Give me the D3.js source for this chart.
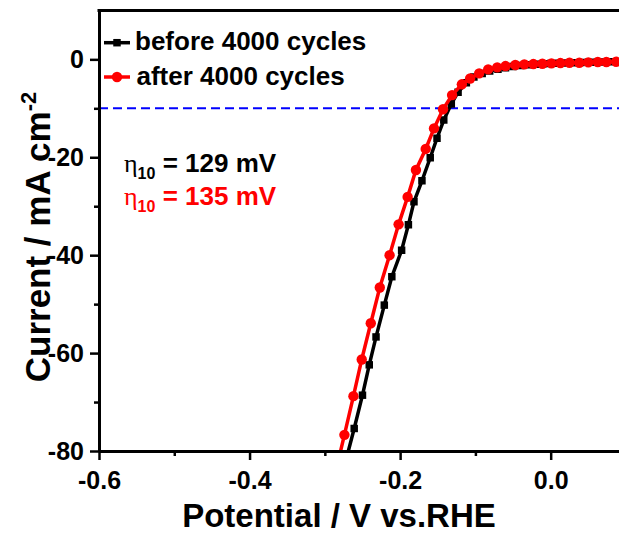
<!DOCTYPE html>
<html>
<head>
<meta charset="utf-8">
<script src="https://cdn.jsdelivr.net/npm/d3@7"></script>
<style>
  body { margin: 0; background: #fff; }
  svg { display: block; font-family: "Liberation Sans", Arial, sans-serif; }
</style>
</head>
<body>
<svg width="619" height="536"></svg>
<script>
// data (V vs RHE, mA cm-2)
var before_v = [-0.272, -0.261, -0.250, -0.241, -0.232, -0.221, -0.211, -0.198, -0.189, -0.1816, -0.171, -0.160, -0.151, -0.142, -0.132, -0.123, -0.112, -0.102, -0.091, -0.081, -0.070, -0.060, -0.050, -0.040, -0.030, -0.020, -0.010, 0.000, 0.010, 0.020, 0.030, 0.040, 0.050, 0.060, 0.070, 0.080, 0.090, 0.100];
var before_j = [-81.9, -75.4, -68.6, -62.4, -56.7, -50.2, -44.4, -39.0, -33.8, -29.1, -24.8, -20.1, -16.1, -12.4, -9.1, -6.7, -4.8, -3.6, -2.9, -2.4, -2.0, -1.7, -1.45, -1.25, -1.1, -1.0, -0.92, -0.85, -0.8, -0.75, -0.7, -0.65, -0.6, -0.57, -0.54, -0.5, -0.47, -0.45];
var after_v = [-0.286, -0.274, -0.262, -0.251, -0.239, -0.227, -0.214, -0.202, -0.190, -0.179, -0.166, -0.155, -0.143, -0.131, -0.118, -0.107, -0.095, -0.083, -0.071, -0.060, -0.047, -0.035, -0.023, -0.011, 0.001, 0.013, 0.025, 0.038, 0.050, 0.0625, 0.074, 0.087, 0.099];
var after_j = [-84.5, -76.7, -68.8, -61.3, -53.9, -46.6, -40.0, -33.7, -28.1, -22.6, -18.3, -14.1, -10.2, -7.3, -5.1, -3.9, -2.86, -2.04, -1.63, -1.37, -1.16, -1.02, -0.96, -0.9, -0.82, -0.76, -0.69, -0.69, -0.61, -0.55, -0.55, -0.49, -0.47];

var x_major = [-0.6, -0.4, -0.2, 0.0], x_minor = [-0.5, -0.3, -0.1, 0.1];
var y_major = [0, -20, -40, -60, -80], y_minor = [-10, -30, -50, -70];
var ref_j = -10;

var series = [
  { name: "before 4000 cycles", v: before_v, j: before_j, clr: "#000000", shape: "square", eta: "129 mV" },
  { name: "after 4000 cycles",  v: after_v,  j: after_j,  clr: "#ff0000", shape: "circle", eta: "135 mV" }
];

/***********************************************************************************************/

var svg = d3.select("svg"),
    plot_left = 99, plot_top = 10.4, plot_bottom = 451;

var xScale = d3.scaleLinear().domain([-0.6, 0.1]).range([plot_left, plot_left + 0.7*752.8]);
var yScale = d3.scaleLinear().domain([-80, 10]).range([plot_bottom, plot_top]);

svg.append("clipPath").attr("id", "plot").append("rect")
  .attr("x", plot_left).attr("y", plot_top).attr("width", 700).attr("height", plot_bottom - plot_top);

// reference line at -10 mA cm-2
svg.append("line")
  .attr("x1", xScale(-0.6)).attr("x2", 619).attr("y1", yScale(ref_j)).attr("y2", yScale(ref_j))
  .style("stroke", "#0000ff").style("stroke-width", 2).style("stroke-dasharray", "9,5");

var line = d3.line().x(d => xScale(d[0])).y(d => yScale(d[1]));
var sq = d3.symbol().type(d3.symbolSquare).size(56),
    circ = d3.symbol().type(d3.symbolCircle).size(85);

var g = svg.append("g").attr("clip-path", "url(#plot)");
series.forEach(s => {
  var pts = s.v.map((v,i) => [v, s.j[i]]);
  g.append("path").attr("d", line(pts))
    .style("fill", "none").style("stroke", s.clr).style("stroke-width", 3.5);
  g.selectAll(null).data(pts).enter().append("path")
    .attr("transform", d => "translate(" + xScale(d[0]) + "," + yScale(d[1]) + ")")
    .attr("d", s.shape == "square" ? sq : circ)
    .style("fill", s.clr);
});

/***********************************************************************************************/

function styleAxis(a){
  a.selectAll("line").style("stroke", "#000").style("stroke-width", 2.5);
  a.selectAll(".domain").style("stroke", "#000").style("stroke-width", 3);
  a.selectAll("text").style("font-size", "25px").style("font-weight", "bold").style("fill", "#000")
    .style("font-family", "'Liberation Sans', Arial, sans-serif");
}

var gx = svg.append("g").attr("transform", "translate(0," + plot_bottom + ")")
  .call(d3.axisBottom(xScale).tickValues(x_major).tickSize(9).tickSizeOuter(0).tickFormat(d => d.toFixed(1)));
styleAxis(gx);
gx.selectAll("text").attr("y", 37.5).attr("dy", 0);
var gx2 = svg.append("g").attr("transform", "translate(0," + plot_bottom + ")")
  .call(d3.axisBottom(xScale).tickValues(x_minor).tickSize(5).tickSizeOuter(0).tickFormat(""));
styleAxis(gx2);

var gy = svg.append("g").attr("transform", "translate(" + plot_left + ",0)")
  .call(d3.axisLeft(yScale).tickValues(y_major).tickSize(9).tickSizeOuter(0).tickPadding(6).tickFormat(d => d));
styleAxis(gy);
var gy2 = svg.append("g").attr("transform", "translate(" + plot_left + ",0)")
  .call(d3.axisLeft(yScale).tickValues(y_minor).tickSize(5).tickSizeOuter(0).tickFormat(""));
styleAxis(gy2);

// top frame
svg.append("line").attr("x1", plot_left - 1.5).attr("x2", 619).attr("y1", plot_top).attr("y2", plot_top)
  .style("stroke", "#000").style("stroke-width", 3);

/***********************************************************************************************/

// axis titles
svg.append("text").attr("x", 339).attr("y", 527).attr("text-anchor", "middle")
  .style("font-size", "33px").style("font-weight", "bold").text("Potential / V vs.RHE");

var yt = svg.append("text").attr("transform", "translate(50,237) rotate(-90)").attr("text-anchor", "middle")
  .style("font-size", "35px").style("font-weight", "bold");
yt.append("tspan").text("Current / mA cm");
yt.append("tspan").attr("dy", -14).style("font-size", "22px").text("-2");

// legend
series.forEach((s,i) => {
  var ly = 42.7 + i*34.3;
  svg.append("line").attr("x1", 104).attr("x2", 130).attr("y1", ly).attr("y2", ly)
    .style("stroke", s.clr).style("stroke-width", 3.5);
  svg.append("path").attr("transform", "translate(117," + ly + ")")
    .attr("d", s.shape == "square" ? sq : circ).style("fill", s.clr);
  svg.append("text").attr("x", 135 + i*1.5).attr("y", ly + 7.5)
    .style("font-size", "26px").style("font-weight", "bold").style("fill", "#000").text(s.name);
});

// overpotential labels
series.forEach((s,i) => {
  var t = svg.append("text").attr("x", 124).attr("y", 171.5 + i*33.5).style("fill", s.clr);
  t.append("tspan").style("font-family", "'Liberation Serif', serif").style("font-size", "26px").text("η");
  t.append("tspan").attr("dy", 7).style("font-size", "16px").style("font-weight", "bold").text("10");
  t.append("tspan").attr("dy", -7).style("font-size", "26px").style("font-weight", "bold").text(" = " + s.eta);
});
</script>
</body>
</html>
